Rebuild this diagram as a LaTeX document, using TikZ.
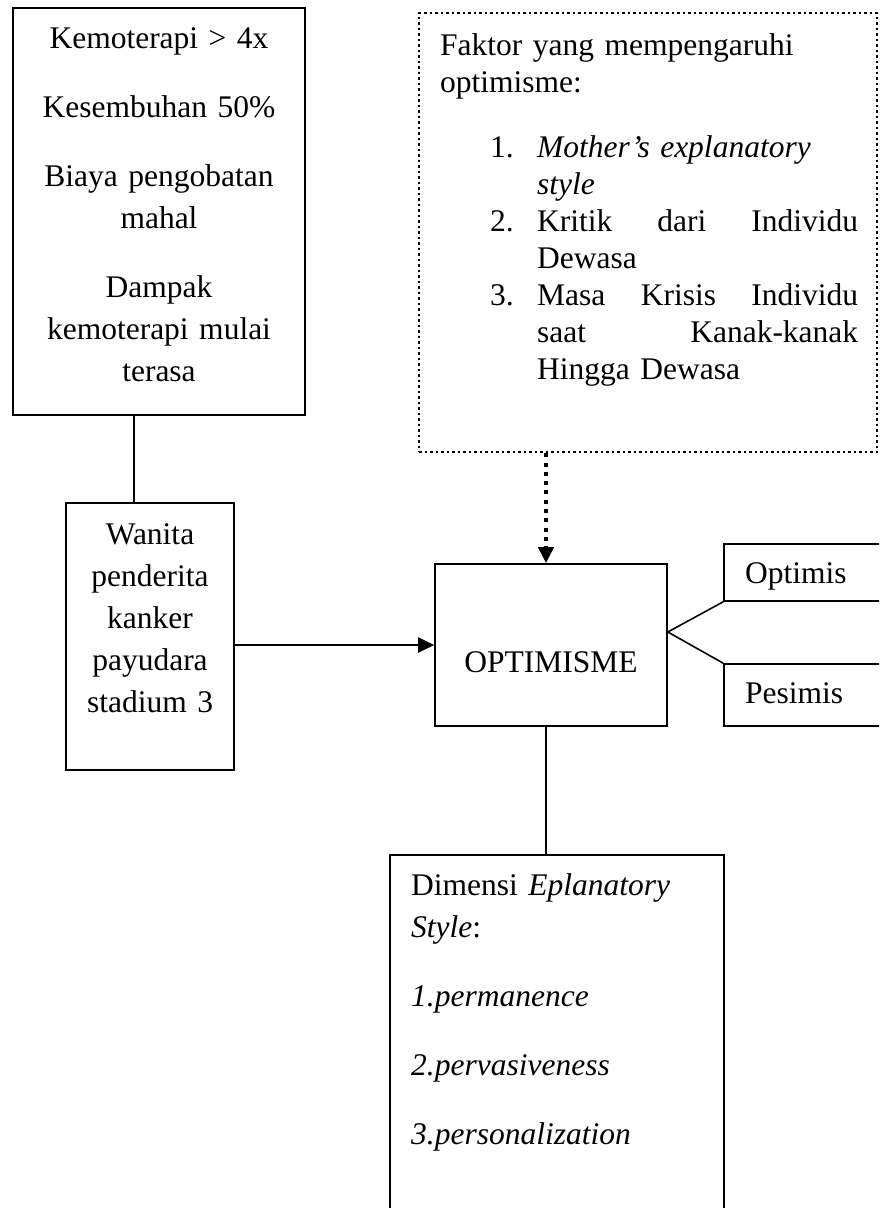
\documentclass[tikz,border=0pt]{standalone}
\usepackage{fontspec}
\setmainfont{Liberation Serif}
\usetikzlibrary{arrows.meta}
\newcommand\bigtxt{\fontsize{31.5}{42}\selectfont}
\newcommand\listtxt{\fontsize{31.5}{37}\selectfont}
\tikzset{
  boxnode/.style={draw, line width=1.6pt, rectangle, inner sep=0pt},
  dotbox/.style={draw, line width=2.5pt, dash pattern=on 2.5pt off 3pt, rectangle, inner sep=0pt},
  txt/.style={inner sep=0pt, font=\bigtxt},
  link/.style={line width=1.6pt},
  arr/.style={line width=2pt, -{Triangle[length=16pt,width=15pt]}},
  dotarr/.style={line width=4pt, dash pattern=on 4pt off 5.3pt, -{Triangle[length=16pt,width=15pt]}},
}
\begin{document}
\begin{tikzpicture}[x=1pt,y=-1pt]
\useasboundingbox (0,0) rectangle (879,1208);
\clip (0,0) rectangle (879,1208);
% boxes
\node[boxnode, minimum width=292pt, minimum height=407pt] (b1) at (159,211.5) {};
\node[boxnode, minimum width=168pt, minimum height=267pt] (b2) at (150,636.5) {};
\node[boxnode, minimum width=232pt, minimum height=162pt] (opt) at (551,645) {};
\node[dotbox, minimum width=458pt, minimum height=439pt] (faktor) at (648,232.5) {};
\node[boxnode, minimum width=200pt, minimum height=57pt] (optimis) at (824,572.5) {};
\node[boxnode, minimum width=200pt, minimum height=62pt] (pesimis) at (824,695) {};
\node[boxnode, minimum width=334pt, minimum height=400pt] (dim) at (557,1055) {};
% texts
\node[txt, anchor=north, text width=280pt, align=center] (t1) at (159,18.6)
  {\strut Kemoterapi > 4x\\[27pt]
   Kesembuhan 50\%\\[27pt]
   Biaya pengobatan\\ mahal\\[27pt]
   Dampak\\ kemoterapi mulai\\ terasa};
\node[txt, anchor=north, text width=160pt, align=center] (t2) at (150,514.6)
  {\strut Wanita\\ penderita\\ kanker\\ payudara\\ stadium 3};
\node[txt, anchor=base] (t3) at (551,672) {OPTIMISME};
\node[txt, anchor=base west] (t4) at (745,583) {Optimis};
\node[txt, anchor=base west] (t5) at (745,703) {Pesimis};
\node[txt, font=\listtxt, anchor=north west, text width=430pt, align=left] (t6) at (440,29.1)
  {\strut Faktor yang mempengaruhi\\
   optimisme:\\[28pt]
   \hspace*{50pt}\makebox[47pt][l]{1.}\textit{Mother’s explanatory}\\
   \hspace*{97pt}\textit{style}\\
   \hspace*{50pt}\makebox[47pt][l]{2.}\makebox[321pt][s]{Kritik\hfill dari\hfill Individu}\\
   \hspace*{97pt}Dewasa\\
   \hspace*{50pt}\makebox[47pt][l]{3.}\makebox[321pt][s]{Masa\hfill Krisis\hfill Individu}\\
   \hspace*{97pt}\makebox[321pt][s]{saat\hfill Kanak-kanak}\\
   \hspace*{97pt}Hingga Dewasa};
\node[txt, anchor=north west, text width=300pt, align=left] (t7) at (411,865.6)
  {\strut Dimensi \textit{Eplanatory}\\
   \textit{Style}:\\[27pt]
   \textit{1.permanence}\\[27pt]
   \textit{2.pervasiveness}\\[27pt]
   \textit{3.personalization}};
% connectors
\draw[link] (b1.south -| 134,0) -- (b2.north -| 134,0);
\draw[arr] (opt.west -| b2.east) -- (opt.west);
\draw[dotarr] (faktor.south -| 546,0) -- (opt.north -| 546,0);
\draw[link] (opt.east |- 0,632) -- (optimis.south west);
\draw[link] (opt.east |- 0,632) -- (pesimis.north west);
\draw[link] (opt.south -| 546,0) -- (dim.north -| 546,0);
\end{tikzpicture}
\end{document}
